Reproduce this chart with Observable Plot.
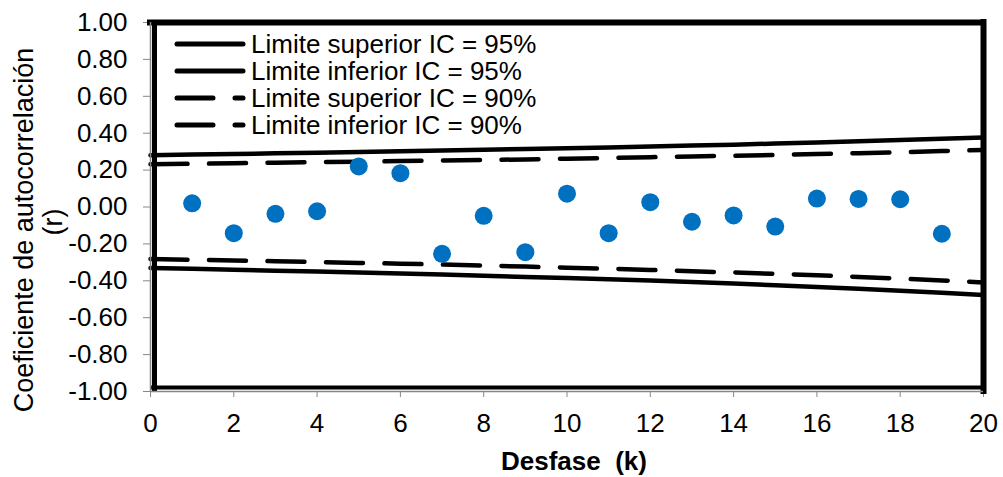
<!DOCTYPE html>
<html>
<head>
<meta charset="utf-8">
<script src="https://cdn.jsdelivr.net/npm/d3@7"></script>
<script src="https://cdn.jsdelivr.net/npm/@observablehq/plot@0.6"></script>
<style>
  html, body { margin: 0; padding: 0; background: #fff; }
  #chart svg { display: block; }
</style>
</head>
<body>
<div id="chart"></div>
<script>
// Autocorrelation coefficients by lag k
const lags = [1, 2, 3, 4, 5, 6, 7, 8, 9, 10, 11, 12, 13, 14, 15, 16, 17, 18, 19];
const acf  = [0.020, -0.142, -0.037, -0.023, 0.220, 0.183, -0.254, -0.048, -0.245, 0.072,
              -0.142, 0.026, -0.080, -0.046, -0.106, 0.046, 0.044, 0.042, -0.145];

// Confidence limits by lag k
const kLimits = [0, 1, 2, 3, 4, 5, 6, 7, 8, 9, 10, 11, 12, 13, 14, 15, 16, 17, 18, 19, 20];
const sup95 = [0.281, 0.284, 0.287, 0.291, 0.294, 0.298, 0.302, 0.306, 0.310, 0.314, 0.319,
               0.323, 0.328, 0.333, 0.338, 0.344, 0.350, 0.356, 0.363, 0.370, 0.377];
const inf95 = [-0.331, -0.335, -0.340, -0.345, -0.350, -0.355, -0.361, -0.366, -0.372, -0.379, -0.385,
               -0.392, -0.399, -0.407, -0.415, -0.424, -0.433, -0.443, -0.454, -0.465, -0.477];
const sup90 = [0.232, 0.234, 0.237, 0.240, 0.243, 0.245, 0.249, 0.252, 0.255, 0.258, 0.262,
               0.266, 0.270, 0.274, 0.278, 0.282, 0.287, 0.292, 0.297, 0.303, 0.309];
const inf90 = [-0.282, -0.286, -0.290, -0.294, -0.298, -0.303, -0.307, -0.312, -0.317, -0.323, -0.329,
               -0.335, -0.341, -0.348, -0.355, -0.362, -0.370, -0.379, -0.388, -0.398, -0.409];

const xTicks = [0, 2, 4, 6, 8, 10, 12, 14, 16, 18, 20];
const yTicks = [-1, -0.8, -0.6, -0.4, -0.2, 0, 0.2, 0.4, 0.6, 0.8, 1];

const seriesNames = ["Limite superior IC = 95%", "Limite inferior IC = 95%",
                     "Limite superior IC = 90%", "Limite inferior IC = 90%"];
const xLabel = "Desfase\u00a0\u00a0(k)";
const yLabelLines = ["Coeficiente de autocorrelación", "(r)"];

const points = lags.map((k, i) => ({k, r: acf[i]}));
const limitRows = (arr) => kLimits.map((k, i) => ({k, v: arr[i]}));

const FONT = "'Liberation Sans', Arial, Helvetica, sans-serif";
const DASH = "37,21.5";
const LW = 4.5;

const plot = Plot.plot({
  width: 1003,
  height: 477,
  marginLeft: 150,
  marginRight: 20,
  marginTop: 22,
  marginBottom: 86,
  style: {fontFamily: FONT, fontSize: "26px", color: "black", background: "white", overflow: "visible"},
  x: {domain: [0, 20]},
  y: {domain: [-1, 1]},
  marks: [
    Plot.axisX({ticks: xTicks, tickFormat: d => String(d), tickSize: 6, tickPadding: 16,
                stroke: "#888", fill: "black", fontSize: 26, label: null}),
    Plot.axisY({ticks: yTicks, tickFormat: d => (Math.abs(d) < 1e-9 ? 0 : d).toFixed(2),
                tickSize: 7, tickPadding: 16, stroke: "#888", fill: "black", fontSize: 26, label: null}),
    Plot.line(limitRows(sup95), {x: "k", y: "v", stroke: "black", strokeWidth: LW}),
    Plot.line(limitRows(inf95), {x: "k", y: "v", stroke: "black", strokeWidth: LW}),
    Plot.line(limitRows(sup90), {x: "k", y: "v", stroke: "black", strokeWidth: LW,
                                 strokeDasharray: DASH, strokeLinecap: "round"}),
    Plot.line(limitRows(inf90), {x: "k", y: "v", stroke: "black", strokeWidth: LW,
                                 strokeDasharray: DASH, strokeLinecap: "round"}),
    // plot-area border
    Plot.ruleY([1], {stroke: "black", strokeWidth: 6, strokeLinecap: "square"}),
    Plot.ruleX([20], {stroke: "black", strokeWidth: 6, strokeLinecap: "square"}),
    Plot.ruleX([0], {stroke: "black", strokeWidth: 5, dx: 4}),
    Plot.ruleY([-1], {stroke: "black", strokeWidth: 4, dy: -4}),
    // gray axis lines
    Plot.ruleX([0], {stroke: "#888", strokeWidth: 1.5}),
    Plot.ruleY([-1], {stroke: "#888", strokeWidth: 1.5}),
    Plot.dot(points, {x: "k", y: "r", r: 9, fill: "#0070C0", stroke: "none"})
  ]
});

document.getElementById("chart").appendChild(plot);

// Legend, inside the top-left of the plot area
const svg = d3.select(plot);
const legend = svg.append("g").attr("font-family", FONT).attr("font-size", 26)
  .attr("text-anchor", "start");
const rowsY = [44, 71, 98, 125];
seriesNames.forEach((name, i) => {
  const g = legend.append("g");
  const line = g.append("line")
    .attr("x1", 177).attr("x2", 243)
    .attr("y1", rowsY[i]).attr("y2", rowsY[i])
    .attr("stroke", "black").attr("stroke-width", 5)
    .attr("stroke-linecap", "round");
  if (i >= 2) line.attr("stroke-dasharray", "36,22");
  g.append("text")
    .attr("x", 251).attr("y", rowsY[i]).attr("dy", "0.36em")
    .attr("text-anchor", "start")
    .attr("fill", "black")
    .text(name);
});

// Axis titles
svg.append("text")
  .attr("x", 574).attr("y", 470)
  .attr("text-anchor", "middle")
  .attr("font-family", FONT).attr("font-size", 26).attr("font-weight", "bold")
  .attr("fill", "black")
  .text(xLabel);

svg.append("text")
  .attr("transform", "translate(33,230) rotate(-90)")
  .attr("text-anchor", "middle")
  .attr("font-family", FONT).attr("font-size", 27).attr("fill", "black")
  .text(yLabelLines[0]);
svg.append("text")
  .attr("transform", "translate(62,222) rotate(-90)")
  .attr("text-anchor", "middle")
  .attr("font-family", FONT).attr("font-size", 27).attr("fill", "black")
  .text(yLabelLines[1]);
</script>
</body>
</html>
